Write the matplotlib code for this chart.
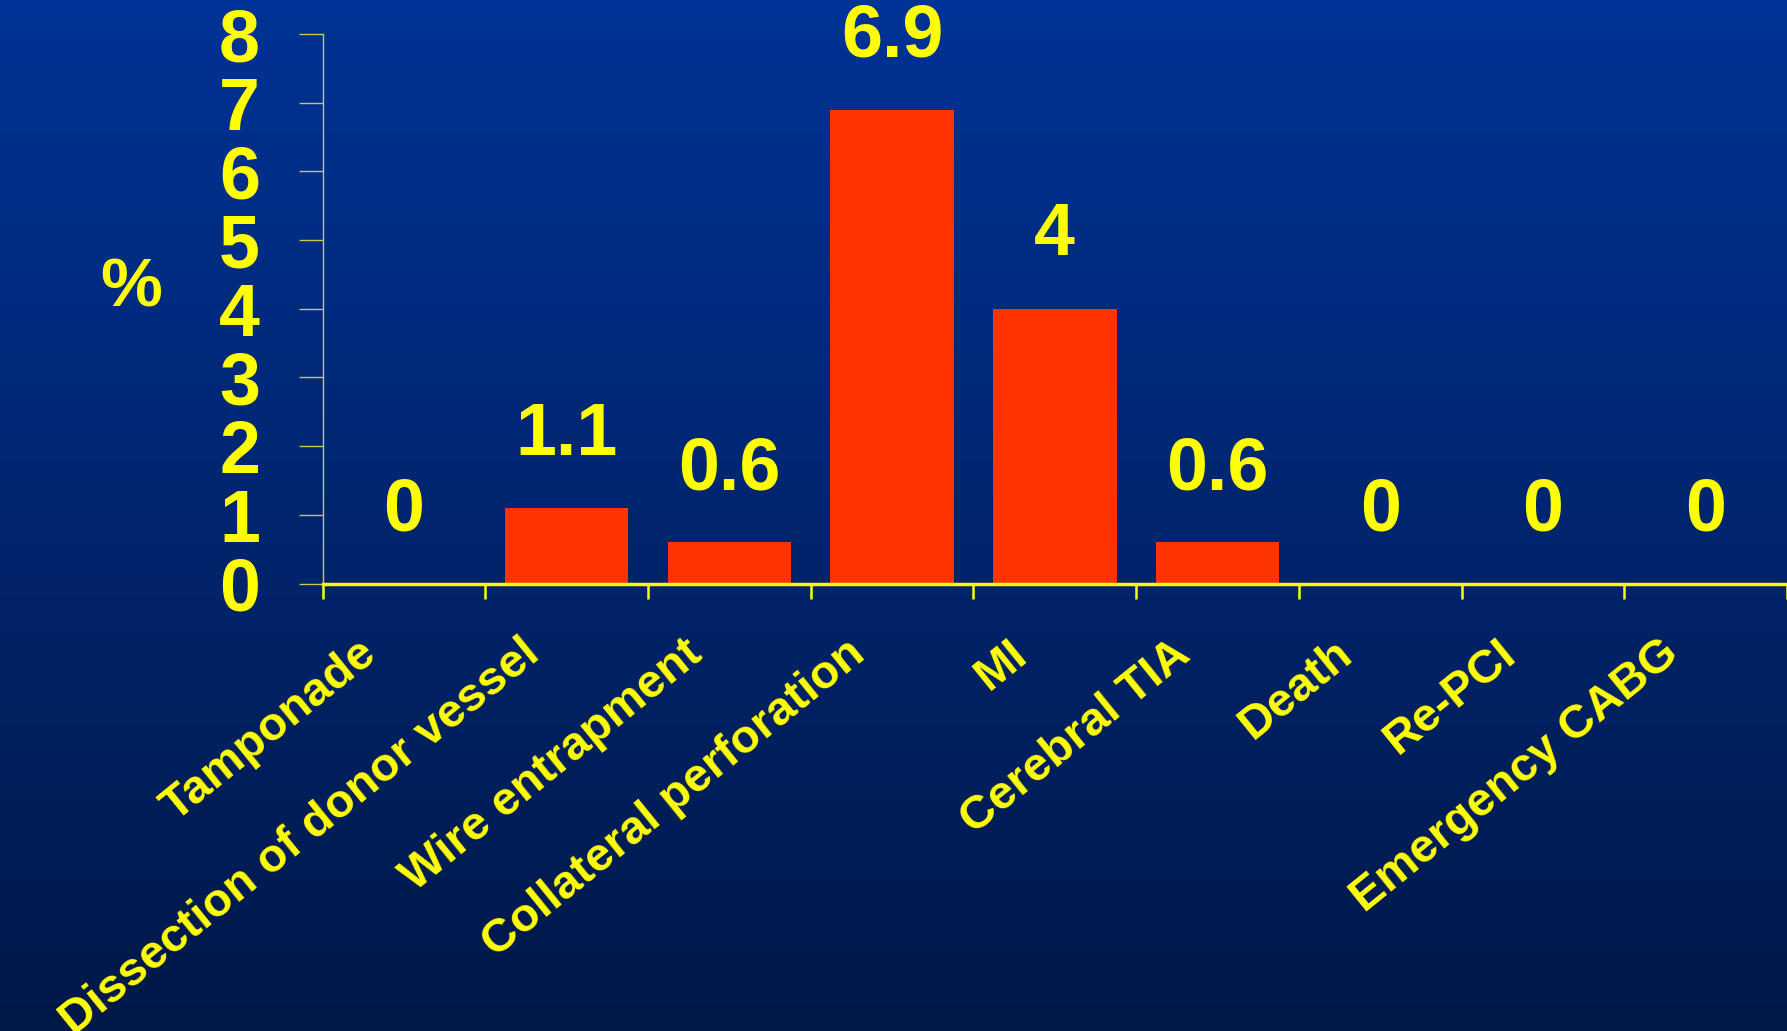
import numpy as np
import matplotlib
matplotlib.use("Agg")
import matplotlib.pyplot as plt
import matplotlib.transforms as mtransforms

# ---------------------------------------------------------
# Data
# ---------------------------------------------------------
categories = ["Tamponade", "Dissection of donor vessel", "Wire entrapment",
              "Collateral perforation", "MI", "Cerebral TIA", "Death",
              "Re-PCI", "Emergency CABG"]
values = [0, 1.1, 0.6, 6.9, 4, 0.6, 0, 0, 0]
value_labels = ["0", "1.1", "0.6", "6.9", "4", "0.6", "0", "0", "0"]
y_ticks = [0, 1, 2, 3, 4, 5, 6, 7, 8]

YELLOW = "#FFFF00"
BAR = "#FF3300"
FONT = "Liberation Sans"

fig = plt.figure(figsize=(17.87, 10.31), dpi=100)

# background gradient
bg = fig.add_axes([0, 0, 1, 1])
top = np.array([0, 51, 150]) / 255.0
bottom = np.array([0, 24, 72]) / 255.0
t = np.linspace(0, 1, 256)[:, None]
grad = top * (1 - t) + bottom * t
bg.imshow(grad[:, None, :], aspect="auto", extent=[0, 1, 0, 1])
bg.set_axis_off()

ax = fig.add_axes([0.1805, 0.434, 0.8195, 0.533])
ax.patch.set_alpha(0)

x = np.arange(len(categories)) + 0.5
ax.bar(x, values, width=0.76, color=BAR, zorder=3)

ax.set_xlim(0, len(categories))
ax.set_ylim(0, 8)

# spines
for s in ["top", "right"]:
    ax.spines[s].set_visible(False)
ax.spines["bottom"].set_color(YELLOW)
ax.spines["bottom"].set_linewidth(2.5)
ax.spines["bottom"].set_zorder(4)
ax.spines["left"].set_color("#C8C850")
ax.spines["left"].set_linewidth(1.0)

# y ticks
ax.set_yticks(y_ticks)
ax.set_yticklabels([str(v) for v in y_ticks])
ax.tick_params(axis="y", length=17, width=1.0, color="#C8C850",
               pad=28, labelcolor=YELLOW, labelsize=53)
for lab in ax.get_yticklabels():
    lab.set_fontfamily(FONT)
    lab.set_fontweight("bold")

# x ticks at category boundaries
ax.set_xticks(np.arange(len(categories) + 1))
ax.set_xticklabels([])
ax.tick_params(axis="x", length=11, width=1.8, color=YELLOW)

# category labels
trans = mtransforms.blended_transform_factory(ax.transData, ax.transAxes)
for xi, name in zip(x, categories):
    ax.text(xi - 0.2, -0.118, name, transform=trans, rotation=39,
            rotation_mode="anchor", ha="right", va="center",
            color=YELLOW, fontsize=34, fontweight="bold", family=FONT)

# value labels
for xi, v, lab in zip(x, values, value_labels):
    ax.text(xi, v + 1.06, lab, ha="center", va="center", color=YELLOW,
            fontsize=53, fontweight="bold", family=FONT, clip_on=False)

# y axis label
fig.text(0.0735, 0.72, "%", ha="center", va="center", color=YELLOW,
         fontsize=50, fontweight="bold", family=FONT)

fig.savefig("out.png", dpi=100)
